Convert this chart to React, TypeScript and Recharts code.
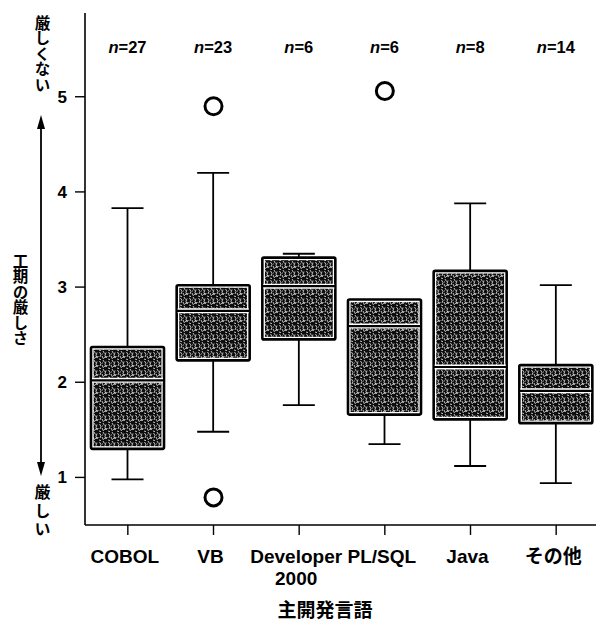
import { ComposedChart, Bar, Scatter, XAxis, YAxis, Label, LabelList } from "recharts";

const languages = ["COBOL", "VB", "Developer\n2000", "PL/SQL", "Java", "その他"];
const counts = [27, 23, 6, 6, 8, 14];
const mins = [0.98, 1.48, 1.76, 1.35, 1.12, 0.94];
const q1s = [1.3, 2.23, 2.45, 1.66, 1.61, 1.57];
const medians = [2.02, 2.75, 3.01, 2.59, 2.16, 1.91];
const q3s = [2.37, 3.02, 3.31, 2.87, 3.17, 2.18];
const maxs = [3.83, 4.2, 3.35, 2.87, 3.88, 3.02];
const outHigh = [null, 4.9, null, 5.06, null, null];
const outLow = [null, 0.79, null, null, null, null];
const yTicks = [1, 2, 3, 4, 5];

const FONT = "'Liberation Sans', 'Noto Sans CJK JP', sans-serif";

const data = languages.map((lang, i) => ({
  lang,
  n: counts[i],
  min: mins[i],
  q1: q1s[i],
  median: medians[i],
  q3: q3s[i],
  max: maxs[i],
  hi: outHigh[i],
  lo: outLow[i],
}));

function BoxShape(props: any) {
  const { x, y, width, height, payload } = props;
  if (!Number.isFinite(y) || !Number.isFinite(height)) return null;
  const ratio = height / (payload.q3 - payload.q1);
  const cx = x + width / 2;
  const medY = y + (payload.q3 - payload.median) * ratio;
  const topY = y - (payload.max - payload.q3) * ratio;
  const botY = y + height + (payload.q1 - payload.min) * ratio;
  const cap = 16;
  return (
    <g>
      {payload.max > payload.q3 && (
        <g stroke="#000" strokeWidth={1.8}>
          <line x1={cx} x2={cx} y1={topY} y2={y} />
          <line x1={cx - cap} x2={cx + cap} y1={topY} y2={topY} />
        </g>
      )}
      <g stroke="#000" strokeWidth={1.8}>
        <line x1={cx} x2={cx} y1={y + height} y2={botY} />
        <line x1={cx - cap} x2={cx + cap} y1={botY} y2={botY} />
      </g>
      <rect x={x} y={y} width={width} height={height} fill="#fff" stroke="#000" strokeWidth={2.6} rx={1.5} />
      <rect x={x + 2.6} y={y + 2.6} width={width - 5.2} height={height - 5.2} fill="url(#scanTex)" />
      <line x1={x + 1} x2={x + width - 1} y1={medY} y2={medY} stroke="#fff" strokeWidth={5} />
      <line x1={x} x2={x + width} y1={medY} y2={medY} stroke="#000" strokeWidth={2.2} />
    </g>
  );
}

function Ring(props: any) {
  const { cx, cy } = props;
  if (!Number.isFinite(cx) || !Number.isFinite(cy)) return null;
  return <circle cx={cx} cy={cy} r={8.5} fill="#fff" stroke="#000" strokeWidth={3} />;
}

function BottomTick(props: any) {
  const { x, payload } = props;
  const lines = String(payload.value).split("\n");
  return (
    <text x={x - 3} y={563} textAnchor="middle" fontFamily={FONT} fontWeight={700} fontSize={19} fill="#000">
      {lines.map((l, i) => (
        <tspan key={i} x={x - 3} dy={i === 0 ? 0 : 22}>
          {l}
        </tspan>
      ))}
    </text>
  );
}

function CountLabel(props: any) {
  const { x, width, value } = props;
  return (
    <text x={x + width / 2} y={53} textAnchor="middle" fontFamily={FONT} fontWeight={700} fontSize={16.5} fill="#000">
      <tspan fontStyle="italic">n</tspan>
      <tspan>={value}</tspan>
    </text>
  );
}

function VText({ text, x, y, size, gap = 0 }: { text: string; x: number; y: number; size: number; gap?: number }) {
  return (
    <text
      x={x}
      y={y}
      fontFamily={FONT}
      fontWeight={700}
      fontSize={size}
      letterSpacing={gap}
      fill="#000"
      style={{ writingMode: "vertical-rl" }}
    >
      {text}
    </text>
  );
}

function SideNotes() {
  return (
    <g>
      <VText text="厳しくない" x={41} y={15} size={15.5} />
      <VText text="工期の厳しさ" x={19} y={253} size={15.5} />
      <VText text="厳しい" x={41} y={484} size={16} gap={2.5} />
      <line x1={41} x2={41} y1={126} y2={466} stroke="#000" strokeWidth={1.8} />
      <polygon points="41,115 37,129 45,129" fill="#000" />
      <polygon points="41,476 37,462 45,462" fill="#000" />
    </g>
  );
}

export default function App() {
  return (
    <div style={{ position: "absolute", left: 0, top: 0, width: 596, height: 620, overflow: "hidden", background: "#fff" }}>
      <ComposedChart width={600} height={620} data={data} margin={{ top: 13, right: 1, bottom: 0, left: 0 }}>
        <defs>
          <pattern id="scanTex" width="9" height="9" patternUnits="userSpaceOnUse">
            <rect width="9" height="9" fill="#0d0d0d" />
            <path
              d="M0.5 1 L2 3.5 L1 6 M4 0 L5.5 2.5 M7 1.5 L6 4.5 L7.5 7 M3 5 L4.5 8 M5 6.5 L8.5 5.5 M0 8 L2 8.6 M3.2 2.6 L4 3.4"
              stroke="#fff"
              strokeWidth={0.75}
              fill="none"
            />
          </pattern>
        </defs>
        <XAxis
          xAxisId="top"
          orientation="top"
          dataKey="lang"
          height={0}
          tick={false}
          tickLine={false}
          axisLine={{ stroke: "#000", strokeWidth: 1.6 }}
        />
        <XAxis
          dataKey="lang"
          height={95}
          interval={0}
          tickSize={10}
          tickLine={{ stroke: "#000", strokeWidth: 1.4 }}
          axisLine={{ stroke: "#000", strokeWidth: 1.6 }}
          tick={<BottomTick />}
        >
          <Label value="主開発言語" position="insideBottom" offset={3} dx={-17} fontFamily={FONT} fontWeight={700} fontSize={19} fill="#000" />
        </XAxis>
        <YAxis
          type="number"
          width={85}
          domain={[0.5, 5.88]}
          ticks={yTicks}
          allowDataOverflow
          tickSize={10}
          tickMargin={8}
          tickLine={{ stroke: "#000", strokeWidth: 1.4 }}
          axisLine={{ stroke: "#000", strokeWidth: 1.6 }}
          tick={{ fill: "#000", fontSize: 17, fontWeight: 700, fontFamily: FONT }}
        >
          <Label content={() => <SideNotes />} />
        </YAxis>
        <Bar dataKey={(d: any) => [d.q1, d.q3]} barSize={73} shape={<BoxShape />} isAnimationActive={false}>
          <LabelList dataKey="n" content={<CountLabel />} />
        </Bar>
        <Scatter dataKey="hi" shape={<Ring />} isAnimationActive={false} />
        <Scatter dataKey="lo" shape={<Ring />} isAnimationActive={false} />
      </ComposedChart>
    </div>
  );
}
